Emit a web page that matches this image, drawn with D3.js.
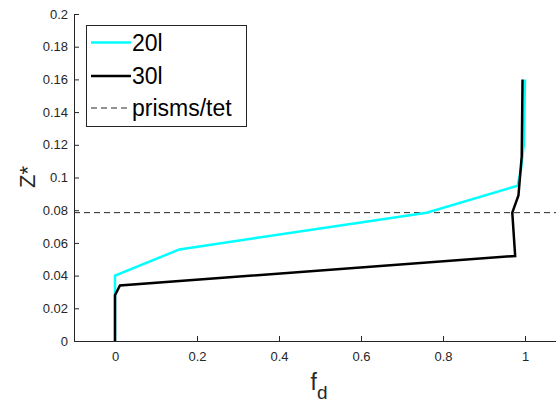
<!DOCTYPE html>
<html>
<head>
<meta charset="utf-8">
<script src="https://cdn.jsdelivr.net/npm/d3@7"></script>
<style>
    body { margin: 0; background: #fff; }
    svg { display: block; font-family: "Liberation Sans", Arial, sans-serif; }
    .axis text { fill: #262626; font-size: 13px; }
    .axis path, .axis line { stroke: #262626; }
</style>
</head>
<body>
<div id="chart"></div>
<script>
// 20l profile
const f20 = [0, 0, 0.157, 0.76, 0.982, 0.99, 0.997, 1.0];
const z20 = [0, 0.04, 0.056, 0.0785, 0.095, 0.105, 0.12, 0.16];
// 30l profile
const f30 = [0, 0, 0.012, 0.976, 0.969, 0.984, 0.992, 0.994];
const z30 = [0, 0.028, 0.034, 0.052, 0.0785, 0.089, 0.113, 0.16];
// prisms/tet interface height
const zInterface = 0.0785;

const xTicks = [0, 0.2, 0.4, 0.6, 0.8, 1];
const yTicks = [0, 0.02, 0.04, 0.06, 0.08, 0.1, 0.12, 0.14, 0.16, 0.18, 0.2];
const seriesNames = ["20l", "30l", "prisms/tet"];

const width = 556;
const height = 404;
const marginLeft = 74;
const marginTop = 14;
const marginBottom = 63;

const svg = d3.select("#chart").append("svg")
    .attr("width", width)
    .attr("height", height)
    .attr("viewBox", [0, 0, width, height]);

const xScale = d3.scaleLinear([-0.1, 1.1], [marginLeft, marginLeft + 492]);
const yScale = d3.scaleLinear([0, 0.2], [height - marginBottom, marginTop]);

const xAxis = d3.axisBottom(xScale).tickValues(xTicks)
    .tickFormat(d3.format("~g")).tickSizeInner(-5).tickSizeOuter(0).tickPadding(11);
const yAxis = d3.axisLeft(yScale).tickValues(yTicks)
    .tickFormat(d3.format("~g")).tickSizeInner(-5).tickSizeOuter(0).tickPadding(6);

svg.append("g")
    .attr("class", "axis")
    .attr("transform", `translate(0,${height - marginBottom})`)
    .call(xAxis);

svg.append("g")
    .attr("class", "axis")
    .attr("transform", `translate(${marginLeft},0)`)
    .call(yAxis);

// dashed interface line
svg.append("line")
    .attr("x1", xScale(-0.1))
    .attr("x2", xScale(1.1))
    .attr("y1", yScale(zInterface))
    .attr("y2", yScale(zInterface))
    .attr("stroke", "#262626")
    .attr("stroke-width", 1)
    .attr("stroke-dasharray", "6,4");

const line = d3.line()
    .x(d => xScale(d[0]))
    .y(d => yScale(d[1]));

svg.append("path")
    .datum(f20.map((f, i) => [f, z20[i]]))
    .attr("fill", "none")
    .attr("stroke", "#00ffff")
    .attr("stroke-width", 2.5)
    .attr("d", line);

svg.append("path")
    .datum(f30.map((f, i) => [f, z30[i]]))
    .attr("fill", "none")
    .attr("stroke", "#000")
    .attr("stroke-width", 2.5)
    .attr("d", line);

// axis labels
svg.append("text")
    .attr("transform", `translate(35,177) rotate(-90)`)
    .attr("text-anchor", "middle")
    .attr("fill", "#262626")
    .style("font-size", "22px")
    .text("Z*");

const xl = svg.append("text")
    .attr("x", 319)
    .attr("y", 390)
    .attr("text-anchor", "middle")
    .attr("fill", "#262626")
    .style("font-size", "23px");
xl.append("tspan").text("f");
xl.append("tspan").attr("dy", 9).style("font-size", "19px").text("d");

// legend
const legend = svg.append("g");
legend.append("rect")
    .attr("x", 86.5).attr("y", 25.5)
    .attr("width", 160).attr("height", 101)
    .attr("fill", "#fff")
    .attr("stroke", "#262626")
    .attr("stroke-width", 1);

const legendStyles = [
    {color: "#00ffff", w: 2.5, dash: null},
    {color: "#000", w: 2.5, dash: null},
    {color: "#262626", w: 1, dash: "6,4"}
];
const legendY = [42.5, 76, 108];

seriesNames.forEach((name, i) => {
    legend.append("line")
        .attr("x1", 91).attr("x2", 131)
        .attr("y1", legendY[i]).attr("y2", legendY[i])
        .attr("stroke", legendStyles[i].color)
        .attr("stroke-width", legendStyles[i].w)
        .attr("stroke-dasharray", legendStyles[i].dash);
    legend.append("text")
        .attr("x", 132)
        .attr("y", legendY[i])
        .attr("dy", "0.35em")
        .attr("fill", "#000")
        .style("font-size", "23px")
        .text(name);
});
</script>
</body>
</html>
